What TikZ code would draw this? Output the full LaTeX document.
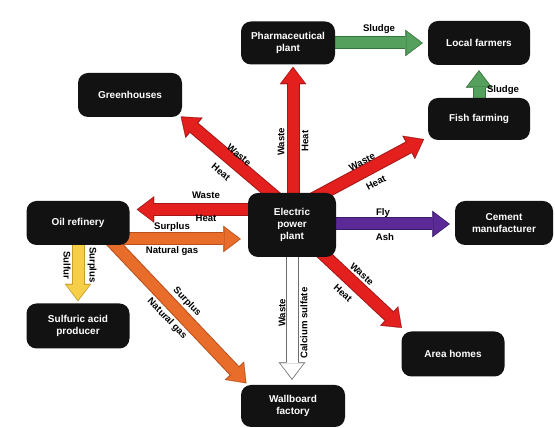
\documentclass[tikz,border=0pt]{standalone}
\usepackage{fontspec}
\setmainfont{Liberation Sans}
\usetikzlibrary{arrows.meta,backgrounds,calc}
\definecolor{heatred}{RGB}{228,32,30}
\definecolor{heatdark}{RGB}{165,22,22}
\definecolor{gasorange}{RGB}{232,108,42}
\definecolor{gasdark}{RGB}{185,80,28}
\definecolor{sulfuryellow}{RGB}{246,206,72}
\definecolor{sulfurdark}{RGB}{196,158,40}
\definecolor{ashpurple}{RGB}{92,42,150}
\definecolor{ashdark}{RGB}{58,24,106}
\definecolor{sludgegreen}{RGB}{84,160,92}
\definecolor{sludgedark}{RGB}{52,118,60}
\definecolor{wastegray}{RGB}{110,110,110}
\begin{document}
\begin{tikzpicture}[x=1pt, y=1pt,
    box/.style={fill=black!93, text=white, rounded corners=10pt, align=center, inner sep=0pt,
                font=\fontsize{10}{12}\selectfont\bfseries},
    lbl/.style={inner sep=0pt, font=\fontsize{9.6}{10}\selectfont\bfseries},
    fat/.style 2 args={draw=#1, line width=11pt,
                -{Triangle[length=15pt,width=23pt,line width=0.2pt]}, shorten >=3.4pt,
                preaction={draw=#2, line width=13pt,
                -{Triangle[length=17.5pt,width=26.5pt,line width=0.2pt]}, shorten >=2pt}}]
  \useasboundingbox (0,0) rectangle (555,428);
  % the plants
  \node (pharm) [box, minimum width=94pt, minimum height=43pt] at (288,385) {Pharmaceutical\\plant};
  \node (farmers) [box, minimum width=102pt, minimum height=44pt] at (479,385) {Local farmers};
  \node (green) [box, minimum width=104pt, minimum height=44pt] at (130,333) {Greenhouses};
  \node (fish) [box, minimum width=102pt, minimum height=42pt] at (479,309) {Fish farming};
  \node (oil) [box, minimum width=103pt, minimum height=44pt] at (78,205) {Oil refinery};
  \node (elec) [box, minimum width=88pt, minimum height=64pt] at (292,203) {Electric\\power\\plant};
  \node (cement) [box, minimum width=98pt, minimum height=44pt] at (504,205) {Cement\\manufacturer};
  \node (acid) [box, minimum width=103pt, minimum height=45pt] at (78,102) {Sulfuric acid\\producer};
  \node (homes) [box, minimum width=103pt, minimum height=45pt] at (453,74) {Area homes};
  \node (wall) [box, minimum width=104pt, minimum height=42pt] at (293,22) {Wallboard\\factory};
  % the flows, behind the plants
  \begin{pgfonlayer}{background}
    \fill [white] (0,0) rectangle (555,428);
    \draw [fat={heatred}{heatdark}] ([xshift=1pt]elec.center) -- ([xshift=5pt]pharm.south);
    \draw [fat={heatred}{heatdark}] ([yshift=14pt]elec.center) -- ([xshift=-3pt,yshift=2pt]green.south east);
    \draw [fat={heatred}{heatdark}] ([yshift=15pt]elec.center) -- ([xshift=-2pt,yshift=2pt]fish.south west);
    \draw [fat={heatred}{heatdark}] ([yshift=15.5pt]elec.center) -- ([xshift=5pt,yshift=13.5pt]oil.east);
    \draw [fat={heatred}{heatdark}] (elec.center) -- ([xshift=2pt,yshift=2pt]homes.north west);
    \draw [fat={gasorange}{gasdark}] ([yshift=-16pt]oil.center) -- ([xshift=-5pt,yshift=-14pt]elec.west);
    \draw [fat={gasorange}{gasdark}] ([xshift=22pt,yshift=-6pt]oil.center) -- ([xshift=7pt]wall.north west);
    \draw [fat={sulfuryellow}{sulfurdark}] (oil.center) -- (acid.north);
    \draw [fat={ashpurple}{ashdark}] ([yshift=1pt]elec.center) -- ([xshift=-3pt,yshift=-1pt]cement.west);
    \draw [fat={white}{wastegray}] (elec.center) -- ($(elec.center |- wall.north)+(0,3)$);
    \draw [fat={sludgegreen}{sludgedark}] (pharm.center) -- ([xshift=-3pt]farmers.west);
    \draw [fat={sludgegreen}{sludgedark}] (fish.center) -- ([yshift=-3pt]farmers.south);
  \end{pgfonlayer}
  % what flows
  \node (sludgetop) [lbl] at (379,399) {Sludge};
  \node (sludgeright) [lbl] at (503,338) {Sludge};
  \node (wastepharm) [lbl, rotate=90] at (281,286) {Waste};
  \node (heatpharm) [lbl, rotate=90] at (305,287) {Heat};
  \node (wastegreen) [lbl, rotate=-40] at (239,273) {Waste};
  \node (heatgreen) [lbl, rotate=-40] at (221,256) {Heat};
  \node (wastefish) [lbl, rotate=28] at (362,266) {Waste};
  \node (heatfish) [lbl, rotate=28] at (376,245) {Heat};
  \node (wasteoil) [lbl] at (206,233) {Waste};
  \node (heatoil) [lbl] at (206,210) {Heat};
  \node (surplusgas) [lbl] at (172,201) {Surplus};
  \node (natgas) [lbl] at (172,177) {Natural gas};
  \node (surpluswall) [lbl, rotate=-46] at (187,126) {Surplus};
  \node (natgaswall) [lbl, rotate=-46] at (167,109) {Natural gas};
  \node (sulfur) [lbl, rotate=-90] at (67,163) {Sulfur};
  \node (surplusacid) [lbl, rotate=-90] at (92,163) {Surplus};
  \node (fly) [lbl] at (383,215) {Fly};
  \node (ash) [lbl] at (385,191) {Ash};
  \node (wastehomes) [lbl, rotate=-42] at (362,154) {Waste};
  \node (heathomes) [lbl, rotate=-42] at (343,135) {Heat};
  \node (wastewall) [lbl, rotate=90] at (282,115) {Waste};
  \node (calcium) [lbl, rotate=90] at (304,105) {Calcium sulfate};
\end{tikzpicture}
\end{document}
